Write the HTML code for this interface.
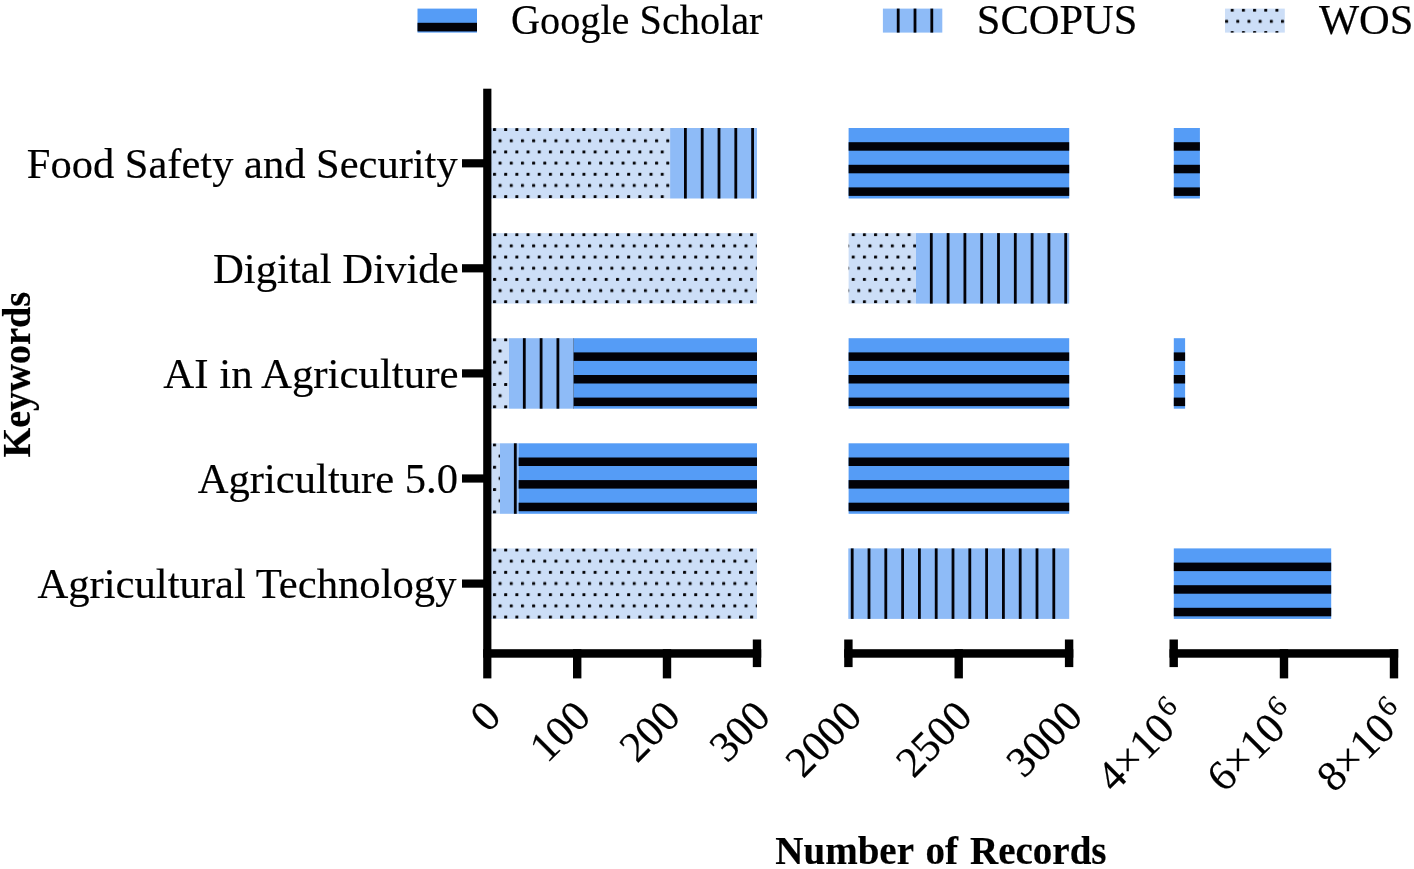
<!DOCTYPE html>
<html lang="en"><head><meta charset="utf-8"><title>Number of Records by Keywords</title>
<style>html,body{margin:0;padding:0;background:#fff}svg{display:block}text{font-family:"Liberation Serif",serif;fill:#000;stroke:#000;stroke-width:0.18px}</style>
</head><body>
<svg width="1414" height="869" viewBox="0 0 1414 869">
<defs>
<pattern id="dl0" patternUnits="userSpaceOnUse" x="493.00" y="128.10" width="11.18" height="22.36"><rect x="0" y="0" width="3" height="3" rx="0.6" fill="#050508"/><rect x="5.59" y="11.18" width="3" height="3" rx="0.6" fill="#050508"/></pattern>
<pattern id="dm0" patternUnits="userSpaceOnUse" x="851.70" y="128.10" width="11.18" height="22.36"><rect x="0" y="0" width="3" height="3" rx="0.6" fill="#050508"/><rect x="5.59" y="11.18" width="3" height="3" rx="0.6" fill="#050508"/></pattern>
<pattern id="dl1" patternUnits="userSpaceOnUse" x="493.00" y="233.20" width="11.18" height="22.36"><rect x="0" y="0" width="3" height="3" rx="0.6" fill="#050508"/><rect x="5.59" y="11.18" width="3" height="3" rx="0.6" fill="#050508"/></pattern>
<pattern id="dm1" patternUnits="userSpaceOnUse" x="851.70" y="233.20" width="11.18" height="22.36"><rect x="0" y="0" width="3" height="3" rx="0.6" fill="#050508"/><rect x="5.59" y="11.18" width="3" height="3" rx="0.6" fill="#050508"/></pattern>
<pattern id="dl2" patternUnits="userSpaceOnUse" x="493.00" y="338.30" width="11.18" height="22.36"><rect x="0" y="0" width="3" height="3" rx="0.6" fill="#050508"/><rect x="5.59" y="11.18" width="3" height="3" rx="0.6" fill="#050508"/></pattern>
<pattern id="dm2" patternUnits="userSpaceOnUse" x="851.70" y="338.30" width="11.18" height="22.36"><rect x="0" y="0" width="3" height="3" rx="0.6" fill="#050508"/><rect x="5.59" y="11.18" width="3" height="3" rx="0.6" fill="#050508"/></pattern>
<pattern id="dl3" patternUnits="userSpaceOnUse" x="493.00" y="443.40" width="11.18" height="22.36"><rect x="0" y="0" width="3" height="3" rx="0.6" fill="#050508"/><rect x="5.59" y="11.18" width="3" height="3" rx="0.6" fill="#050508"/></pattern>
<pattern id="dm3" patternUnits="userSpaceOnUse" x="851.70" y="443.40" width="11.18" height="22.36"><rect x="0" y="0" width="3" height="3" rx="0.6" fill="#050508"/><rect x="5.59" y="11.18" width="3" height="3" rx="0.6" fill="#050508"/></pattern>
<pattern id="dl4" patternUnits="userSpaceOnUse" x="493.00" y="548.50" width="11.18" height="22.36"><rect x="0" y="0" width="3" height="3" rx="0.6" fill="#050508"/><rect x="5.59" y="11.18" width="3" height="3" rx="0.6" fill="#050508"/></pattern>
<pattern id="dm4" patternUnits="userSpaceOnUse" x="851.70" y="548.50" width="11.18" height="22.36"><rect x="0" y="0" width="3" height="3" rx="0.6" fill="#050508"/><rect x="5.59" y="11.18" width="3" height="3" rx="0.6" fill="#050508"/></pattern>
<pattern id="dleg" patternUnits="userSpaceOnUse" x="1230.70" y="8.70" width="11.18" height="22.36"><rect x="0" y="0" width="3" height="3" rx="0.6" fill="#050508"/><rect x="5.59" y="11.18" width="3" height="3" rx="0.6" fill="#050508"/></pattern>
</defs>
<rect width="1414" height="869" fill="#fff"/>
<rect x="487.5" y="128.0" width="182.6" height="70.5" fill="#ccdef7"/>
<rect x="487.5" y="128.0" width="182.6" height="70.5" fill="url(#dl0)"/>
<rect x="670.1" y="128.0" width="86.9" height="70.5" fill="#8ebbf7"/>
<rect x="684.0" y="128.0" width="2.8" height="70.5" fill="#020208"/>
<rect x="700.8" y="128.0" width="2.8" height="70.5" fill="#020208"/>
<rect x="717.6" y="128.0" width="2.8" height="70.5" fill="#020208"/>
<rect x="734.4" y="128.0" width="2.8" height="70.5" fill="#020208"/>
<rect x="751.2" y="128.0" width="2.8" height="70.5" fill="#020208"/>
<rect x="848.6" y="128.0" width="220.6" height="70.5" fill="#559cf6"/>
<rect x="848.6" y="142.2" width="220.6" height="8.5" fill="#020208"/>
<rect x="848.6" y="164.8" width="220.6" height="8.5" fill="#020208"/>
<rect x="848.6" y="187.4" width="220.6" height="8.5" fill="#020208"/>
<rect x="1173.8" y="128.0" width="26.1" height="70.5" fill="#559cf6"/>
<rect x="1173.8" y="142.2" width="26.1" height="8.5" fill="#020208"/>
<rect x="1173.8" y="164.8" width="26.1" height="8.5" fill="#020208"/>
<rect x="1173.8" y="187.4" width="26.1" height="8.5" fill="#020208"/>
<rect x="487.5" y="233.1" width="269.5" height="70.5" fill="#ccdef7"/>
<rect x="487.5" y="233.1" width="269.5" height="70.5" fill="url(#dl1)"/>
<rect x="848.6" y="233.1" width="67.4" height="70.5" fill="#ccdef7"/>
<rect x="848.6" y="233.1" width="67.4" height="70.5" fill="url(#dm1)"/>
<rect x="916.0" y="233.1" width="153.2" height="70.5" fill="#8ebbf7"/>
<rect x="929.9" y="233.1" width="2.8" height="70.5" fill="#020208"/>
<rect x="946.7" y="233.1" width="2.8" height="70.5" fill="#020208"/>
<rect x="963.5" y="233.1" width="2.8" height="70.5" fill="#020208"/>
<rect x="980.3" y="233.1" width="2.8" height="70.5" fill="#020208"/>
<rect x="997.1" y="233.1" width="2.8" height="70.5" fill="#020208"/>
<rect x="1013.9" y="233.1" width="2.8" height="70.5" fill="#020208"/>
<rect x="1030.7" y="233.1" width="2.8" height="70.5" fill="#020208"/>
<rect x="1047.5" y="233.1" width="2.8" height="70.5" fill="#020208"/>
<rect x="1064.3" y="233.1" width="2.8" height="70.5" fill="#020208"/>
<rect x="487.5" y="338.2" width="21.5" height="70.5" fill="#ccdef7"/>
<rect x="487.5" y="338.2" width="21.5" height="70.5" fill="url(#dl2)"/>
<rect x="509.0" y="338.2" width="64.7" height="70.5" fill="#8ebbf7"/>
<rect x="522.9" y="338.2" width="2.8" height="70.5" fill="#020208"/>
<rect x="539.7" y="338.2" width="2.8" height="70.5" fill="#020208"/>
<rect x="556.5" y="338.2" width="2.8" height="70.5" fill="#020208"/>
<rect x="573.3" y="338.2" width="0.4" height="70.5" fill="#020208"/>
<rect x="573.7" y="338.2" width="183.3" height="70.5" fill="#559cf6"/>
<rect x="573.7" y="352.4" width="183.3" height="8.5" fill="#020208"/>
<rect x="573.7" y="375.0" width="183.3" height="8.5" fill="#020208"/>
<rect x="573.7" y="397.6" width="183.3" height="8.5" fill="#020208"/>
<rect x="848.6" y="338.2" width="220.6" height="70.5" fill="#559cf6"/>
<rect x="848.6" y="352.4" width="220.6" height="8.5" fill="#020208"/>
<rect x="848.6" y="375.0" width="220.6" height="8.5" fill="#020208"/>
<rect x="848.6" y="397.6" width="220.6" height="8.5" fill="#020208"/>
<rect x="1173.8" y="338.2" width="11.3" height="70.5" fill="#559cf6"/>
<rect x="1173.8" y="352.4" width="11.3" height="8.5" fill="#020208"/>
<rect x="1173.8" y="375.0" width="11.3" height="8.5" fill="#020208"/>
<rect x="1173.8" y="397.6" width="11.3" height="8.5" fill="#020208"/>
<rect x="487.5" y="443.3" width="12.5" height="70.5" fill="#ccdef7"/>
<rect x="487.5" y="443.3" width="12.5" height="70.5" fill="url(#dl3)"/>
<rect x="500.0" y="443.3" width="18.6" height="70.5" fill="#8ebbf7"/>
<rect x="513.9" y="443.3" width="2.8" height="70.5" fill="#020208"/>
<rect x="518.6" y="443.3" width="238.4" height="70.5" fill="#559cf6"/>
<rect x="518.6" y="457.5" width="238.4" height="8.5" fill="#020208"/>
<rect x="518.6" y="480.1" width="238.4" height="8.5" fill="#020208"/>
<rect x="518.6" y="502.7" width="238.4" height="8.5" fill="#020208"/>
<rect x="848.6" y="443.3" width="220.6" height="70.5" fill="#559cf6"/>
<rect x="848.6" y="457.5" width="220.6" height="8.5" fill="#020208"/>
<rect x="848.6" y="480.1" width="220.6" height="8.5" fill="#020208"/>
<rect x="848.6" y="502.7" width="220.6" height="8.5" fill="#020208"/>
<rect x="487.5" y="548.4" width="269.5" height="70.5" fill="#ccdef7"/>
<rect x="487.5" y="548.4" width="269.5" height="70.5" fill="url(#dl4)"/>
<rect x="848.3" y="548.4" width="220.9" height="70.5" fill="#8ebbf7"/>
<rect x="850.8" y="548.4" width="2.8" height="70.5" fill="#020208"/>
<rect x="867.6" y="548.4" width="2.8" height="70.5" fill="#020208"/>
<rect x="884.4" y="548.4" width="2.8" height="70.5" fill="#020208"/>
<rect x="901.2" y="548.4" width="2.8" height="70.5" fill="#020208"/>
<rect x="918.0" y="548.4" width="2.8" height="70.5" fill="#020208"/>
<rect x="934.8" y="548.4" width="2.8" height="70.5" fill="#020208"/>
<rect x="951.6" y="548.4" width="2.8" height="70.5" fill="#020208"/>
<rect x="968.4" y="548.4" width="2.8" height="70.5" fill="#020208"/>
<rect x="985.2" y="548.4" width="2.8" height="70.5" fill="#020208"/>
<rect x="1002.0" y="548.4" width="2.8" height="70.5" fill="#020208"/>
<rect x="1018.8" y="548.4" width="2.8" height="70.5" fill="#020208"/>
<rect x="1035.6" y="548.4" width="2.8" height="70.5" fill="#020208"/>
<rect x="1052.4" y="548.4" width="2.8" height="70.5" fill="#020208"/>
<rect x="1069.2" y="548.4" width="0.0" height="70.5" fill="#020208"/>
<rect x="1173.8" y="548.4" width="157.4" height="70.5" fill="#559cf6"/>
<rect x="1173.8" y="562.6" width="157.4" height="8.5" fill="#020208"/>
<rect x="1173.8" y="585.2" width="157.4" height="8.5" fill="#020208"/>
<rect x="1173.8" y="607.8" width="157.4" height="8.5" fill="#020208"/>
<rect x="483.2" y="88.7" width="8.2" height="589.7" fill="#000"/>
<rect x="462" y="159.2" width="22" height="8.2" fill="#000"/>
<rect x="462" y="264.2" width="22" height="8.2" fill="#000"/>
<rect x="462" y="369.3" width="22" height="8.2" fill="#000"/>
<rect x="462" y="474.4" width="22" height="8.2" fill="#000"/>
<rect x="462" y="579.5" width="22" height="8.2" fill="#000"/>
<rect x="483.2" y="649.2" width="278.0" height="8.5" fill="#000"/>
<rect x="573.0" y="649.2" width="8.4" height="29.2" fill="#000"/>
<rect x="662.8" y="649.2" width="8.4" height="29.2" fill="#000"/>
<rect x="752.8" y="639.5" width="8.4" height="27.6" fill="#000"/>
<rect x="844.2" y="649.2" width="229.1" height="8.5" fill="#000"/>
<rect x="844.2" y="639.5" width="8.4" height="27.6" fill="#000"/>
<rect x="954.5" y="649.2" width="8.4" height="29.2" fill="#000"/>
<rect x="1064.9" y="639.5" width="8.4" height="27.6" fill="#000"/>
<rect x="1169.5" y="649.2" width="228.7" height="8.5" fill="#000"/>
<rect x="1169.5" y="639.5" width="8.4" height="27.6" fill="#000"/>
<rect x="1279.8" y="649.2" width="8.4" height="29.2" fill="#000"/>
<rect x="1389.8" y="649.2" width="8.4" height="29.2" fill="#000"/>
<rect x="417.5" y="8.6" width="59.5" height="24" fill="#559cf6"/><rect x="417.5" y="22.799999999999997" width="59.5" height="8.6" fill="#020208"/>
<rect x="882.9" y="8.6" width="59.4" height="24" fill="#8ebbf7"/>
<rect x="896.8" y="8.6" width="2.8" height="24" fill="#020208"/>
<rect x="913.6" y="8.6" width="2.8" height="24" fill="#020208"/>
<rect x="930.4" y="8.6" width="2.8" height="24" fill="#020208"/>
<rect x="1225.0" y="8.6" width="59.8" height="24" fill="#ccdef7"/>
<rect x="1225.0" y="8.6" width="59.8" height="24" fill="url(#dleg)"/>
<text x="511" y="33.8" font-size="42.5" text-anchor="start" textLength="251.5" lengthAdjust="spacingAndGlyphs" >Google Scholar</text>
<text x="976.8" y="33.8" font-size="42.5" text-anchor="start" >SCOPUS</text>
<text x="1319" y="33.8" font-size="42.5" text-anchor="start" >WOS</text>
<text x="457.7" y="177.8" font-size="42.5" text-anchor="end" >Food Safety and Security</text>
<text x="458.7" y="282.9" font-size="42.5" text-anchor="end" textLength="245.8" lengthAdjust="spacingAndGlyphs" >Digital Divide</text>
<text x="458.5" y="388.0" font-size="42.5" text-anchor="end" textLength="295.2" lengthAdjust="spacingAndGlyphs" >AI in Agriculture</text>
<text x="458.0" y="493.09999999999997" font-size="42.5" text-anchor="end" textLength="260.2" lengthAdjust="spacingAndGlyphs" >Agriculture 5.0</text>
<text x="456.5" y="598.1999999999999" font-size="42.5" text-anchor="end" textLength="419.1" lengthAdjust="spacingAndGlyphs" >Agricultural Technology</text>
<text x="775.3" y="863.8" font-size="39" text-anchor="start" font-weight="bold" word-spacing="2.4">Number of Records</text>
<text transform="translate(30.0,457.6) rotate(-90)" font-size="39.2" font-weight="bold" textLength="165.7" lengthAdjust="spacingAndGlyphs">Keywords</text>
<text transform="translate(503.0,718.5) rotate(-45)" font-size="43" text-anchor="end">0</text>
<text transform="translate(592.7,718.5) rotate(-45)" font-size="43" text-anchor="end">100</text>
<text transform="translate(682.5,718.5) rotate(-45)" font-size="43" text-anchor="end">200</text>
<text transform="translate(772.5,718.5) rotate(-45)" font-size="43" text-anchor="end">300</text>
<text transform="translate(863.9,718.5) rotate(-45)" font-size="43" text-anchor="end">2000</text>
<text transform="translate(974.2,718.5) rotate(-45)" font-size="43" text-anchor="end">2500</text>
<text transform="translate(1084.6,718.5) rotate(-45)" font-size="43" text-anchor="end">3000</text>
<text transform="translate(1189.2,718.5) rotate(-45)" font-size="43" text-anchor="end">4×10<tspan font-size="29.5" dy="-15" dx="2.8">6</tspan></text>
<text transform="translate(1299.5,718.5) rotate(-45)" font-size="43" text-anchor="end">6×10<tspan font-size="29.5" dy="-15" dx="2.8">6</tspan></text>
<text transform="translate(1409.5,718.5) rotate(-45)" font-size="43" text-anchor="end">8×10<tspan font-size="29.5" dy="-15" dx="2.8">6</tspan></text>
</svg>
</body></html>
